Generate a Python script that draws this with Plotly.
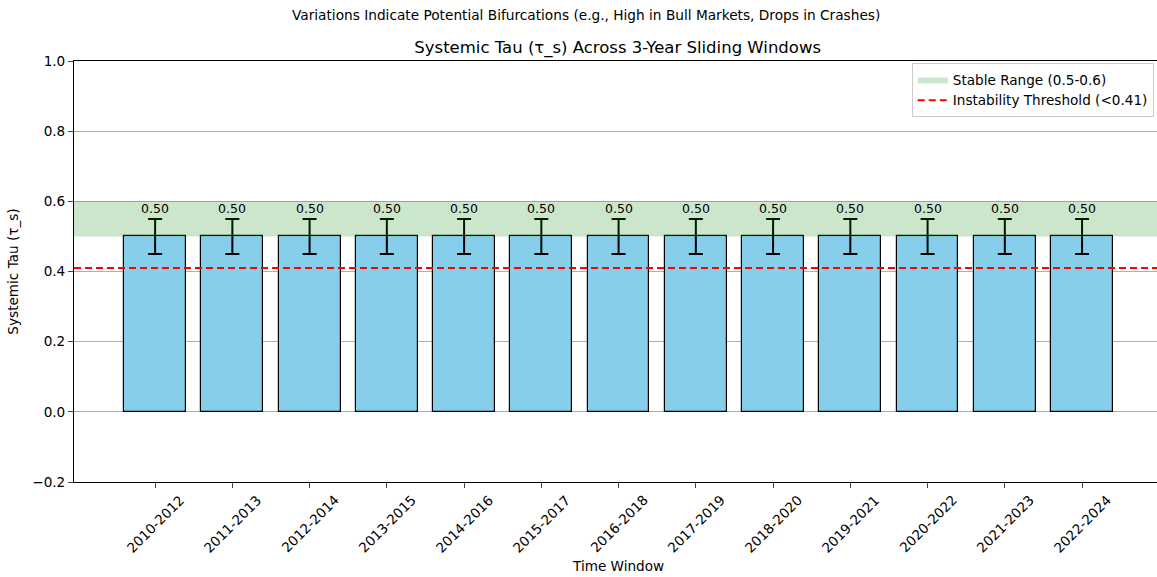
import plotly.graph_objects as go

windows = ["2010-2012", "2011-2013", "2012-2014", "2013-2015", "2014-2016", "2015-2017",
           "2016-2018", "2017-2019", "2018-2020", "2019-2021", "2020-2022", "2021-2023", "2022-2024"]
tau_values = [0.50] * 13
tau_errors = [0.05] * 13
stable_low, stable_high = 0.5, 0.6
instability_threshold = 0.41

x_pos = list(range(len(windows)))
x_min, x_max = -1.05, 12.97
font = "DejaVu Sans"
fs = 13.6

fig = go.Figure()

# stable band
fig.add_trace(go.Scatter(
    x=[x_min, x_max, x_max, x_min, x_min],
    y=[stable_low, stable_low, stable_high, stable_high, stable_low],
    fill="toself", fillcolor="rgba(0,128,0,0.2)", mode="lines",
    line=dict(width=0), name="Stable Range (0.5-0.6)", hoverinfo="skip",
))

fig.add_trace(go.Bar(
    x=x_pos, y=tau_values, width=0.8,
    marker=dict(color="#87CEEB", line=dict(color="black", width=1.2)),
    error_y=dict(type="data", array=tau_errors, visible=True, color="black",
                 thickness=2, width=7),
    showlegend=False,
))

fig.add_trace(go.Scatter(
    x=[x_min, x_max], y=[instability_threshold] * 2, mode="lines",
    line=dict(color="red", width=2, dash="7px,4px"),
    name="Instability Threshold (<0.41)",
))

# value labels above the error bars
for xi, v, e in zip(x_pos, tau_values, tau_errors):
    fig.add_annotation(x=xi, y=v + e, text=f"{v:.2f}", showarrow=False,
                       yanchor="bottom", yshift=1,
                       font=dict(family=font, size=12.5, color="black"))

# rotated window labels, centred under each tick
for xi, label in zip(x_pos, windows):
    fig.add_annotation(x=xi, y=0, xref="x", yref="paper", text=label,
                       textangle=-45, showarrow=False, xanchor="center",
                       yanchor="top", yshift=-7,
                       font=dict(family=font, size=fs, color="black"))

# x-axis title
fig.add_annotation(text="Time Window", xref="paper", yref="paper", x=0.502, y=0,
                   yshift=-84, xanchor="center", yanchor="middle", showarrow=False,
                   font=dict(family=font, size=fs))

fig.update_layout(
    width=1157, height=577,
    margin=dict(l=74, r=0, t=61, b=95),
    plot_bgcolor="white", paper_bgcolor="white",
    font=dict(family=font, size=fs, color="black"),
    bargap=0,
    title=dict(text="Systemic Tau (τ_s) Across 3-Year Sliding Windows",
               x=0.502, xanchor="center", y=0.918, yanchor="middle",
               xref="paper", font=dict(size=16.5)),
    legend=dict(x=0.997, y=0.995, xanchor="right", yanchor="top",
                bordercolor="#cccccc", borderwidth=1, bgcolor="rgba(255,255,255,0.8)",
                font=dict(size=fs), tracegroupgap=0),
    xaxis=dict(range=[x_min, x_max], tickvals=x_pos, ticktext=[""] * len(windows),
               showgrid=False, zeroline=False, showline=True, linecolor="black",
               linewidth=1, mirror=True, ticks="outside", ticklen=5),
    yaxis=dict(range=[-0.2, 1.0], tickvals=[-0.2, 0, 0.2, 0.4, 0.6, 0.8, 1.0],
               ticktext=["−0.2", "0.0", "0.2", "0.4", "0.6", "0.8", "1.0"],
               showgrid=True, gridcolor="#b0b0b0", gridwidth=1, zeroline=False,
               showline=True, linecolor="black", linewidth=1, ticks="outside",
               ticklen=5, tickfont=dict(size=fs),
               title=dict(text="Systemic Tau (τ_s)", font=dict(size=fs), standoff=10)),
)

fig.add_annotation(text="Variations Indicate Potential Bifurcations (e.g., High in Bull Markets, Drops in Crashes)",
                   xref="paper", yref="paper", x=0.473, y=1.0, yshift=46,
                   xanchor="center", yanchor="middle", showarrow=False,
                   font=dict(family=font, size=13.7))

fig.write_html("out.html")
